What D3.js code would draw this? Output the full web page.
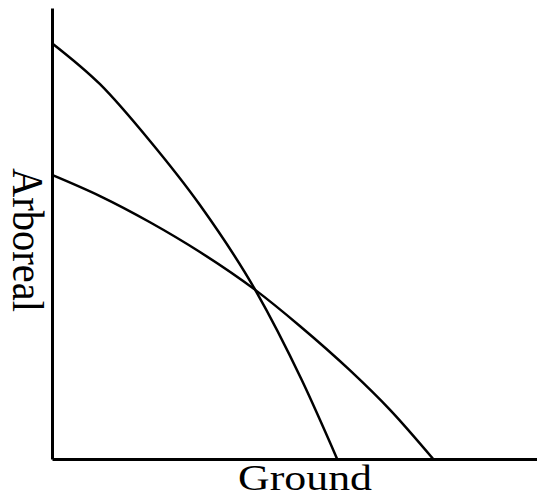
<!DOCTYPE html>
<html>
<head>
<meta charset="utf-8">
<script src="https://cdn.jsdelivr.net/npm/d3@7"></script>
<style>
  body { margin: 0; background: #fff; }
  svg { display: block; }
</style>
</head>
<body>
<svg id="chart" width="537" height="499"></svg>
<script>
// axis titles
const xTitle = "Ground";
const yTitle = "Arboreal";

// curve 1 (steeper frontier) - ground vs arboreal
const groundA = [0, 9.9, 20.2, 30.5, 41.9, 51.5, 58.8];
const arborA  = [92.2, 83.1, 70.5, 56.3, 37.5, 17.5, 0];

// curve 2 (flatter frontier)
const groundB = [0, 9.9, 20.2, 30.5, 41.9, 51.1, 61.4, 69.7, 78.6];
const arborB  = [63.0, 58.3, 52.5, 45.9, 37.5, 29.5, 19.7, 10.9, 0];

const svg = d3.select("#chart");
const width = Number(svg.attr("width"));
const height = Number(svg.attr("height"));
const margin = {top: 8, right: 0, bottom: 40, left: 52};

const x = d3.scaleLinear()
  .domain([0, 100])
  .range([margin.left, width - margin.right]);
const y = d3.scaleLinear()
  .domain([0, 100])
  .range([height - margin.bottom, margin.top]);

const line = d3.line()
  .x(d => x(d[0]))
  .y(d => y(d[1]))
  .curve(d3.curveMonotoneX);

const curves = [
  d3.zip(groundA, arborA),
  d3.zip(groundB, arborB)
];

svg.append("g")
  .selectAll("path")
  .data(curves)
  .enter()
  .append("path")
    .attr("d", line)
    .attr("fill", "none")
    .attr("stroke", "#000")
    .attr("stroke-width", 2.5);

// axes: bare lines, no ticks
svg.append("g")
  .attr("transform", `translate(0,${y(0)})`)
  .call(d3.axisBottom(x).ticks(0).tickSizeOuter(0));
svg.append("g")
  .attr("transform", `translate(${x(0)},0)`)
  .call(d3.axisLeft(y).ticks(0).tickSizeOuter(0));
svg.selectAll(".domain")
  .attr("stroke", "#000")
  .attr("stroke-width", 3);

svg.append("text")
  .attr("x", 305)
  .attr("y", 490)
  .attr("text-anchor", "middle")
  .attr("font-family", "'Liberation Serif', 'Times New Roman', serif")
  .attr("font-size", 35)
  .attr("textLength", 134)
  .attr("lengthAdjust", "spacingAndGlyphs")
  .text(xTitle);

svg.append("text")
  .attr("transform", "translate(13,240) rotate(90)")
  .attr("text-anchor", "middle")
  .attr("font-family", "'Liberation Serif', 'Times New Roman', serif")
  .attr("font-size", 44)
  .attr("textLength", 144)
  .attr("lengthAdjust", "spacingAndGlyphs")
  .text(yTitle);
</script>
</body>
</html>
